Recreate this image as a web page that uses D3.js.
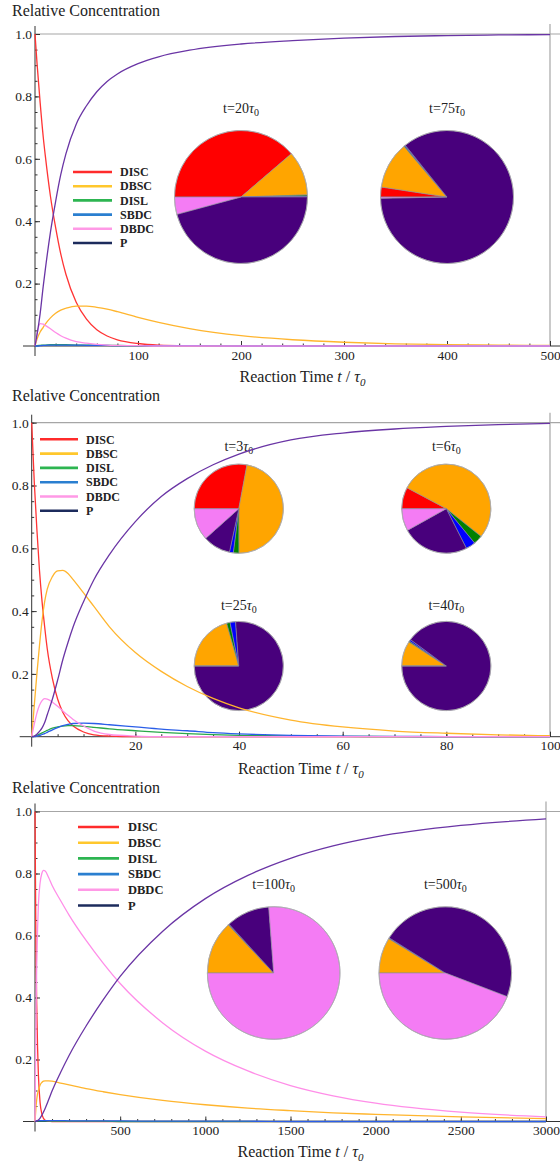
<!DOCTYPE html>
<html><head><meta charset="utf-8">
<script src="https://cdn.jsdelivr.net/npm/d3@7"></script>
<style>
body{margin:0;background:#fff}
svg text{font-family:"Liberation Serif","Times New Roman",serif;fill:#222}
</style></head><body>
<svg id="c" width="560" height="1163"></svg>
<script>
// Species, in legend order
const species = ["DISC", "DBSC", "DISL", "SBDC", "DBDC", "P"];
const curveColors = ["#ff3434", "#ffb52e", "#2aa84a", "#2a5ee8", "#ff8ee8", "#6a35a5"];
const legendColors = ["#ff2b2b", "#ffc72c", "#2db551", "#2a7fd0", "#ff99e6", "#1c2b5c"];
const pieColors = ["#ff0000", "#ffa500", "#008000", "#0000ff", "#f47cf4", "#48007c"];
// pie sectors run clockwise from 9 o'clock in this order (indices into species)
const pieOrder = [0, 1, 2, 3, 5, 4];
const yTicks = [0.2, 0.4, 0.6, 0.8, 1.0];

// Panel A: reaction time 0..500
const tA = [0, 2, 5, 8, 10, 15, 20, 25, 30, 40, 50, 60, 70, 80, 100, 120, 150, 200, 250, 300, 350, 400, 450, 500];
const discA = [1, .905, .78, .67, .61, .48, .38, .295, .23, .14, .086, .052, .032, .02, .008, .003, .001, 0, 0, 0, 0, 0, 0, 0];
const dbscA = [0, .022, .045, .06, .07, .09, .105, .115, .121, .128, .128, .124, .118, .11, .092, .076, .056, .033, .02, .012, .007, .0045, .0028, .0017];
const dislA = [0, .001, .002, .003, .003, .004, .004, .004, .004, .003, .003, .002, .002, .002, .001, .001, .001, .001, 0, 0, 0, 0, 0, 0];
const sbdcA = [0, 0, .001, .002, .002, .003, .003, .003, .003, .003, .002, .002, .002, .001, .001, .001, .001, 0, 0, 0, 0, 0, 0, 0];
const dbdcA = [0, .04, .072, .07, .066, .055, .043, .033, .025, .014, .009, .005, .003, .002, .001, 0, 0, 0, 0, 0, 0, 0, 0, 0];
const pA = [0, .037, .104, .192, .245, .365, .463, .549, .616, .711, .77, .815, .848, .872, .905, .927, .948, .968, .979, .987, .992, .995, .997, .998];
const xTicksA = [100, 200, 300, 400, 500];
const pieTimesA = ["20", "75"];
const pieA = [
  [.387, .108, .003, .002, .042, .458],
  [.024, .114, .002, .002, .003, .855]
];

// Panel B: reaction time 0..100
const tB = [0, 0.5, 1, 1.5, 2, 2.5, 3, 4, 5, 6, 7, 8, 10, 12, 15, 20, 25, 30, 35, 40, 50, 60, 70, 80, 90, 100];
const discB = [1, .81, .66, .53, .43, .35, .28, .185, .12, .078, .051, .034, .015, .006, .002, 0, 0, 0, 0, 0, 0, 0, 0, 0, 0, 0];
const dbscB = [0, .1, .2, .29, .37, .43, .47, .51, .528, .53, .52, .5, .458, .415, .35, .268, .208, .16, .122, .092, .053, .031, .018, .011, .006, .003];
const dislB = [0, .001, .004, .008, .012, .016, .02, .027, .031, .034, .035, .035, .033, .03, .025, .019, .0135, .0095, .0065, .0045, .002, .001, .0005, .0002, 0, 0];
const sbdcB = [0, 0, .002, .004, .007, .01, .014, .022, .029, .035, .039, .042, .043, .042, .038, .031, .024, .019, .013, .009, .004, .002, .001, .0005, .0002, 0];
const dbdcB = [0, .04, .075, .1, .115, .121, .12, .11, .097, .082, .068, .055, .034, .018, .007, .002, 0, 0, 0, 0, 0, 0, 0, 0, 0, 0];
const pB = [0, .002, .008, .017, .028, .045, .07, .12, .18, .245, .3, .35, .43, .5, .58, .685, .765, .822, .866, .9, .945, .967, .98, .988, .994, .998];
const xTicksB = [20, 40, 60, 80, 100];
const pieTimesB = ["3", "6", "25", "40"];
const pieB = [
  [.279, .47, .02, .014, .116, .1],
  [.078, .53, .033, .035, .081, .244],
  [0, .206, .0125, .02, 0, .7615],
  [0, .091, .004, .006, 0, .899]
];

// Panel C: reaction time 0..3000
const tC = [0, 5, 10, 15, 20, 30, 40, 50, 60, 80, 100, 150, 200, 300, 400, 500, 750, 1000, 1250, 1500, 1750, 2000, 2500, 3000];
const discC = [1, .6, .38, .24, .15, .06, .025, .01, .004, .001, 0, 0, 0, 0, 0, 0, 0, 0, 0, 0, 0, 0, 0, 0];
const dbscC = [0, .04, .07, .09, .1, .118, .126, .13, .131, .131, .13, .124, .118, .106, .096, .087, .068, .054, .043, .035, .028, .023, .015, .009];
const dislC = [0, .002, .002, .002, .002, .002, .002, .002, .002, .002, .001, .001, .001, .001, .001, 0, 0, 0, 0, 0, 0, 0, 0, 0];
const sbdcC = [0, .001, .002, .003, .003, .003, .003, .003, .003, .003, .003, .003, .002, .002, .002, .002, .001, .001, .001, 0, 0, 0, 0, 0];
const dbdcC = [0, .3, .5, .62, .7, .77, .8, .81, .808, .787, .762, .713, .666, .584, .511, .445, .318, .227, .163, .116, .083, .059, .03, .015];
const pC = [0, .0005, .001, .003, .005, .011, .02, .031, .043, .07, .098, .158, .213, .308, .392, .468, .614, .719, .794, .849, .889, .918, .955, .976];
const xTicksC = [500, 1000, 1500, 2000, 2500, 3000];
const pieTimesC = ["100", "500"];
const pieC = [
  [0, .13, .001, .001, .762, .106],
  [0, .087, .001, .001, .442, .469]
];

const panels = [
  { t: tA, series: [discA, dbscA, dislA, sbdcA, dbdcA, pA], xMax: 500, xTicks: xTicksA, xMinor: 20,
    left: 35, right: 550, bottom: 346, top: 34, titleY: 15.5, axisTitleY: 381.5,
    legend: { x1: 73, x2: 112, tx: 120, y: 172, dy: 14.2, fs: 12 },
    pieR: 66.5, pieTimes: pieTimesA, pieVals: pieA,
    pieAt: [[241, 197, 113], [447, 197, 113]] },
  { t: tB, series: [discB, dbscB, dislB, sbdcB, dbdcB, pB], xMax: 100, xTicks: xTicksB, xMinor: 5,
    left: 31.7, right: 550, bottom: 736.7, top: 422.7, titleY: 400.5, axisTitleY: 773.5,
    legend: { x1: 40, x2: 78, tx: 86, y: 439.3, dy: 14.3, fs: 12 },
    pieR: 44.6, pieTimes: pieTimesB, pieVals: pieB,
    pieAt: [[238.8, 508.7, 450.5], [446.3, 508.7, 450.5], [238.8, 666, 610], [446.3, 666, 610]] },
  { t: tC, series: [discC, dbscC, dislC, sbdcC, dbdcC, pC], xMax: 3000, xTicks: xTicksC, xMinor: 100,
    left: 35, right: 546, bottom: 1121.5, top: 811.5, titleY: 792.5, axisTitleY: 1157,
    legend: { x1: 78, x2: 119, tx: 128, y: 827, dy: 15.7, fs: 12.5 },
    pieR: 66.3, pieTimes: pieTimesC, pieVals: pieC,
    pieAt: [[273.7, 973, 889], [445.3, 973, 889]] }
];

const svg = d3.select("#c");

function drawPanel(P) {
  const g = svg.append("g");
  const x = d3.scaleLinear().domain([0, P.xMax]).range([P.left, P.right]);
  const y = d3.scaleLinear().domain([0, 1]).range([P.bottom, P.top]);

  // title
  g.append("text").attr("x", 12).attr("y", P.titleY).attr("font-size", 16).text("Relative Concentration");

  // reference lines at y=1 and x=max
  g.append("line").attr("x1", P.left).attr("x2", 560).attr("y1", y(1)).attr("y2", y(1))
    .attr("stroke", "#a6a6a6").attr("stroke-width", 1.2);
  g.append("line").attr("x1", x(P.xMax)).attr("x2", x(P.xMax)).attr("y1", y(1) - 10).attr("y2", y(0))
    .attr("stroke", "#a6a6a6").attr("stroke-width", 1.2);

  // axes lines
  g.append("line").attr("x1", P.left - 12).attr("x2", 560).attr("y1", y(0)).attr("y2", y(0))
    .attr("stroke", "#333").attr("stroke-width", 1);
  g.append("line").attr("x1", P.left).attr("x2", P.left).attr("y1", y(0) + 10).attr("y2", y(1) - 8)
    .attr("stroke", "#333").attr("stroke-width", 1);

  // y axis ticks (pointing inward)
  const yMinor = d3.range(0.05, 1.0001, 0.05);
  const yAxMinor = g.append("g").attr("transform", `translate(${P.left},0)`)
    .call(d3.axisLeft(y).tickValues(yMinor).tickSize(-2.5).tickFormat(""));
  const yAx = g.append("g").attr("transform", `translate(${P.left},0)`)
    .call(d3.axisLeft(y).tickValues(yTicks).tickSize(-5).tickPadding(3).tickFormat(d3.format(".1f")));
  [yAxMinor, yAx].forEach(a => { a.select(".domain").remove(); a.selectAll("line").attr("stroke", "#333"); });
  yAx.selectAll("text").attr("font-size", 13.5).attr("fill", "#222")
    .style("font-family", '"Liberation Serif","Times New Roman",serif');

  // x axis ticks (pointing inward)
  const xMinor = d3.range(P.xMinor, P.xMax + 0.001, P.xMinor);
  const xAxMinor = g.append("g").attr("transform", `translate(0,${y(0)})`)
    .call(d3.axisBottom(x).tickValues(xMinor).tickSize(-2.5).tickFormat(""));
  const xAx = g.append("g").attr("transform", `translate(0,${y(0)})`)
    .call(d3.axisBottom(x).tickValues(P.xTicks).tickSize(-5).tickPadding(4).tickFormat(d3.format("d")));
  [xAxMinor, xAx].forEach(a => { a.select(".domain").remove(); a.selectAll("line").attr("stroke", "#333"); });
  xAx.selectAll("text").attr("font-size", 13.5).attr("fill", "#222")
    .style("font-family", '"Liberation Serif","Times New Roman",serif');

  // axis title
  const at = g.append("text").attr("x", (P.left + P.right) / 2 + 10).attr("y", P.axisTitleY)
    .attr("text-anchor", "middle").attr("font-size", 16);
  at.append("tspan").text("Reaction Time ");
  at.append("tspan").attr("font-style", "italic").text("t");
  at.append("tspan").text(" / ");
  at.append("tspan").attr("font-style", "italic").text("τ");
  at.append("tspan").attr("font-style", "italic").attr("font-size", 11).attr("dy", 4).text("0");

  // pies
  const pie = d3.pie().sort(null).value(d => d.v).startAngle(-Math.PI / 2).endAngle(1.5 * Math.PI);
  const arc = d3.arc().innerRadius(0).outerRadius(P.pieR);
  P.pieAt.forEach((pos, i) => {
    const vals = P.pieVals[i];
    const data = pieOrder.map(k => ({ k, v: vals[k] }));
    const pg = g.append("g").attr("transform", `translate(${pos[0]},${pos[1]})`);
    pg.selectAll("path").data(pie(data)).join("path")
      .attr("d", arc).attr("fill", d => pieColors[d.data.k])
      .attr("stroke", "#8a8a9a").attr("stroke-width", 0.6).attr("stroke-linejoin", "round");
    pg.append("circle").attr("r", P.pieR).attr("fill", "none").attr("stroke", "#b0b0b0").attr("stroke-width", 0.8);
    const lt = g.append("text").attr("x", pos[0]).attr("y", pos[2]).attr("text-anchor", "middle").attr("font-size", 14);
    lt.append("tspan").text("t=" + P.pieTimes[i]);
    lt.append("tspan").attr("font-style", "italic").text("τ");
    lt.append("tspan").attr("font-size", 10).attr("dy", 3).text("0");
  });

  // curves
  const line = d3.line().x(d => x(d[0])).y(d => y(d[1])).curve(d3.curveMonotoneX);
  P.series.forEach((s, k) => {
    g.append("path").datum(P.t.map((tt, i) => [tt, s[i]]))
      .attr("d", line).attr("fill", "none").attr("stroke", curveColors[k]).attr("stroke-width", 1.3);
  });

  // legend
  const L = P.legend;
  species.forEach((name, k) => {
    const yy = L.y + k * L.dy;
    g.append("line").attr("x1", L.x1).attr("x2", L.x2).attr("y1", yy).attr("y2", yy)
      .attr("stroke", legendColors[k]).attr("stroke-width", 2.6);
    g.append("text").attr("x", L.tx).attr("y", yy).attr("dy", "0.35em")
      .attr("font-size", L.fs).attr("font-weight", "bold").text(name);
  });
}

panels.forEach(drawPanel);
</script>
</body></html>
